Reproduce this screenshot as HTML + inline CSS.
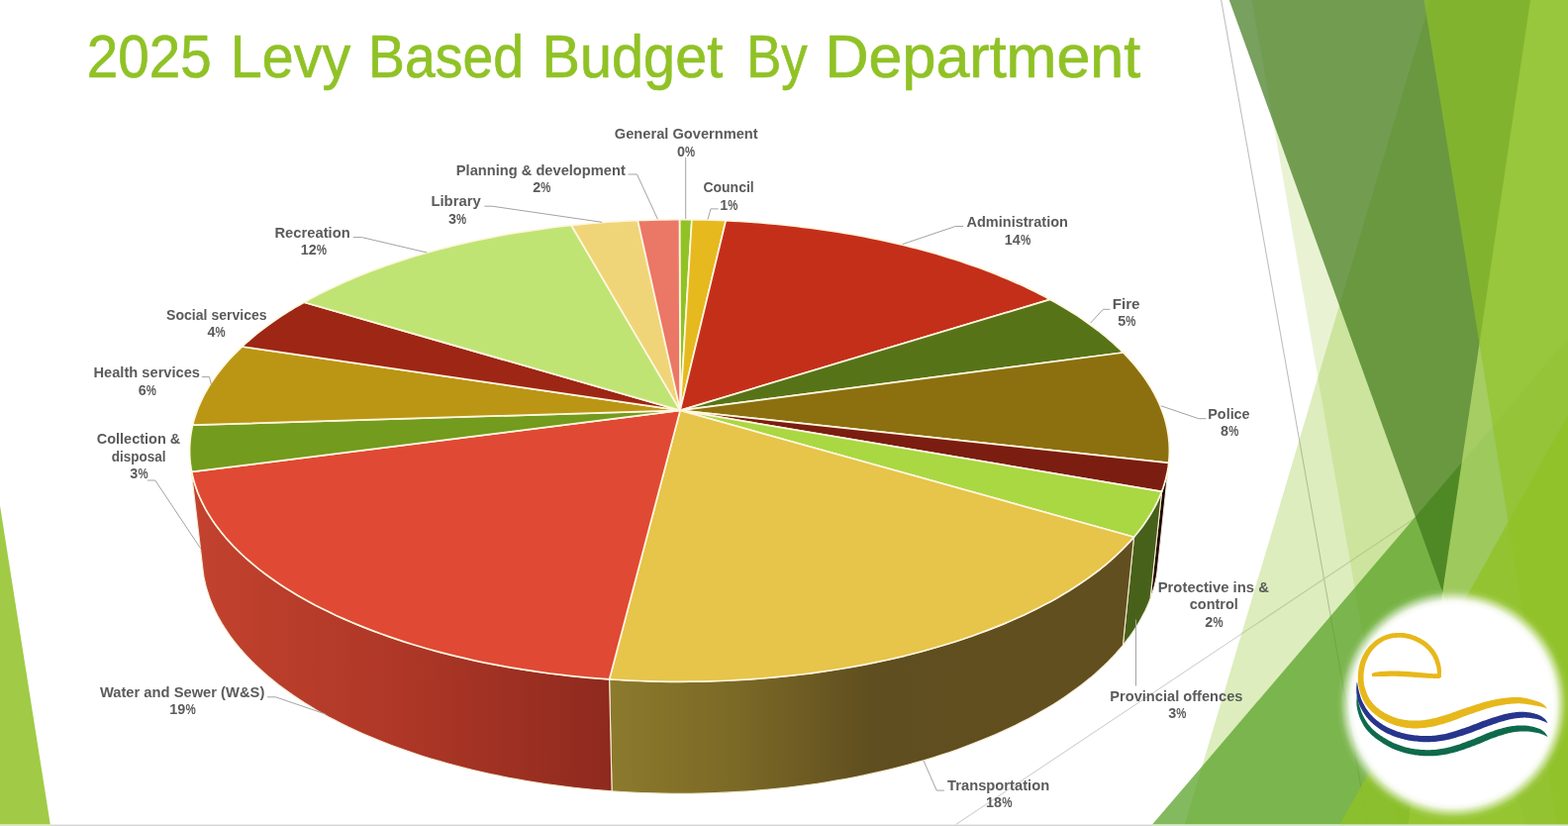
<!DOCTYPE html>
<html lang="en"><head><meta charset="utf-8"><title>2025 Levy Based Budget By Department</title>
<style>html,body{margin:0;padding:0;background:#fff}body{width:1584px;height:834px;overflow:hidden;position:relative;font-family:"Liberation Sans",sans-serif}svg{position:absolute;left:0;top:0;display:block}text{font-family:"Liberation Sans",sans-serif;white-space:pre}.lb{font-weight:bold;font-size:15.5px;fill:#5B5B5B}.ld{fill:none;stroke:#A3A3A3;stroke-width:1}</style>
</head><body>
<svg width="1584" height="834" viewBox="0 0 1584 834">
<defs>
<radialGradient id="soft" gradientUnits="userSpaceOnUse" cx="1468" cy="711" r="118"><stop offset="0" stop-color="#fff"/><stop offset="0.85" stop-color="#fff"/><stop offset="0.885" stop-color="#fff" stop-opacity="0.9"/><stop offset="0.925" stop-color="#fff" stop-opacity="0.5"/><stop offset="0.965" stop-color="#fff" stop-opacity="0.1"/><stop offset="1" stop-color="#fff" stop-opacity="0"/></radialGradient>
<linearGradient id="gW" gradientUnits="userSpaceOnUse" x1="195" y1="0" x2="617" y2="0"><stop offset="0" stop-color="#C2422E"/><stop offset="0.5" stop-color="#AE3727"/><stop offset="1" stop-color="#8E2A1E"/></linearGradient>
<linearGradient id="gT" gradientUnits="userSpaceOnUse" x1="617" y1="0" x2="1146" y2="0"><stop offset="0" stop-color="#8C7A2D"/><stop offset="0.25" stop-color="#7A6826"/><stop offset="0.5" stop-color="#5F4E1F"/><stop offset="1" stop-color="#624F20"/></linearGradient>
</defs>
<rect width="1584" height="834" fill="#fff"/>
<g id="facet">
<line x1="1233.6" y1="0" x2="1381.9" y2="834" stroke="#BFBFBF" stroke-width="1.1"/>
<line x1="965.6" y1="832.5" x2="1592.7" y2="414.3" stroke="#D2D2D2" stroke-width="1.1"/>
<polygon points="1444.9,0 1600,0 1600,832.6 1196.8,832.6" fill="#90C226" fill-opacity="0.3"/>
<polygon points="1264.6,0 1600,0 1600,832.6 1410.4,832.6" fill="#90C226" fill-opacity="0.2"/>
<polygon points="1164,832.6 1593.1,330.9 1600,330.9 1600,832.6" fill="#54A021" fill-opacity="0.72"/>
<polygon points="1241.8,0 1600,0 1600,832.6 1541.8,832.6" fill="#3F7819" fill-opacity="0.7"/>
<polygon points="1546,0 1600,0 1600,832.6 1422.4,832.6" fill="#C0E474" fill-opacity="0.7"/>
<polygon points="1438.5,0 1600,0 1600,832.6 1573,832.6" fill="#90C226" fill-opacity="0.65"/>
<polygon points="1353.5,832.6 1593.1,402.3 1600,402.3 1600,832.6" fill="#90C226" fill-opacity="0.8"/>
<polygon points="0,510.4 50.8,832.6 0,832.6" fill="#90C226" fill-opacity="0.85"/>
</g>
<rect x="0" y="832.6" width="1584" height="1.4" fill="#D4D4D4"/>
<rect x="0" y="832.6" width="51" height="1.4" fill="#D9EBB0"/>
<rect x="1164" y="832.6" width="420" height="1.4" fill="#D5EBC0"/>
<g id="logo">
<circle cx="1468" cy="711" r="118" fill="url(#soft)"/>
<path fill="#E7B81C" d="M1386.1 683.1 L1386.7 683.1 L1387.2 683.1 L1387.7 683.1 L1388.2 683.1 L1388.6 683.1 L1389.1 683.1 L1389.6 683.1 L1390.1 683.1 L1390.6 683.1 L1391.3 683.1 L1392.1 683.1 L1392.9 683.1 L1393.9 683.1 L1395.0 683.1 L1396.2 683.0 L1397.5 683.0 L1398.9 682.9 L1400.3 682.9 L1401.7 682.9 L1403.1 682.8 L1404.6 682.8 L1406.1 682.8 L1407.5 682.8 L1408.9 682.8 L1410.3 682.8 L1411.8 682.9 L1413.3 682.9 L1414.8 683.0 L1416.3 683.1 L1417.8 683.2 L1419.3 683.2 L1420.8 683.3 L1422.3 683.4 L1423.8 683.5 L1425.3 683.6 L1426.8 683.7 L1428.2 683.8 L1429.6 683.9 L1431.0 684.0 L1432.4 684.1 L1433.8 684.2 L1435.2 684.3 L1436.6 684.3 L1437.9 684.4 L1439.2 684.5 L1440.5 684.6 L1441.8 684.7 L1443.0 684.7 L1444.1 684.8 L1445.2 684.8 L1446.3 684.8 L1447.3 684.8 L1448.2 684.9 L1449.2 684.9 L1450.1 684.9 L1451.0 684.9 L1451.9 684.9 L1452.8 684.9 L1453.8 684.9 L1454.7 684.9 L1454.9 680.5 L1453.9 680.4 L1452.9 680.4 L1452.0 680.4 L1451.1 680.3 L1450.2 680.3 L1449.3 680.3 L1448.4 680.2 L1447.4 680.2 L1446.4 680.1 L1445.4 680.1 L1444.4 680.0 L1443.2 679.9 L1442.1 679.8 L1440.9 679.7 L1439.6 679.6 L1438.3 679.5 L1437.0 679.3 L1435.6 679.2 L1434.2 679.1 L1432.8 678.9 L1431.4 678.8 L1430.0 678.7 L1428.5 678.5 L1427.1 678.4 L1425.7 678.3 L1424.2 678.2 L1422.7 678.1 L1421.2 678.0 L1419.6 677.9 L1418.1 677.8 L1416.5 677.8 L1415.0 677.7 L1413.5 677.6 L1411.9 677.6 L1410.4 677.5 L1409.0 677.5 L1407.5 677.5 L1406.0 677.5 L1404.5 677.6 L1403.0 677.6 L1401.5 677.7 L1400.1 677.7 L1398.6 677.8 L1397.3 677.9 L1396.0 678.0 L1394.8 678.1 L1393.6 678.2 L1392.6 678.3 L1391.7 678.4 L1390.9 678.5 L1390.2 678.7 L1389.5 678.8 L1388.9 679.0 L1388.4 679.1 L1388.0 679.3 L1387.5 679.5 L1387.1 679.6 L1386.7 679.8 L1386.2 679.9 L1385.7 680.1Z"/>
<path fill="#E7B81C" d="M1455.9 683.9 L1455.9 683.0 L1455.9 682.1 L1455.9 681.3 L1455.9 680.4 L1455.9 679.5 L1456.0 678.6 L1456.0 677.7 L1455.9 676.7 L1455.9 675.8 L1455.8 674.8 L1455.7 673.7 L1455.5 672.7 L1455.3 671.7 L1455.1 670.6 L1454.8 669.5 L1454.5 668.5 L1454.2 667.4 L1453.8 666.2 L1453.4 665.1 L1453.0 664.0 L1452.6 662.9 L1452.1 661.8 L1451.5 660.7 L1450.9 659.7 L1450.3 658.7 L1449.7 657.7 L1449.0 656.7 L1448.3 655.8 L1447.5 654.8 L1446.7 653.9 L1445.9 653.0 L1445.1 652.1 L1444.2 651.2 L1443.3 650.4 L1442.3 649.6 L1441.4 648.8 L1440.4 648.0 L1439.3 647.3 L1438.3 646.6 L1437.2 645.9 L1436.0 645.2 L1434.9 644.6 L1433.7 643.9 L1432.5 643.4 L1431.3 642.8 L1430.1 642.3 L1428.9 641.8 L1427.7 641.4 L1426.5 641.0 L1425.3 640.6 L1424.0 640.3 L1422.8 640.0 L1421.5 639.7 L1420.2 639.5 L1418.9 639.3 L1417.6 639.1 L1416.4 639.0 L1415.1 638.9 L1413.8 638.9 L1412.5 638.9 L1411.2 639.0 L1409.9 639.1 L1408.6 639.2 L1407.3 639.3 L1406.0 639.5 L1404.7 639.8 L1403.4 640.1 L1402.2 640.4 L1400.9 640.8 L1399.6 641.2 L1398.4 641.7 L1397.2 642.2 L1396.0 642.8 L1394.8 643.4 L1393.6 644.0 L1392.4 644.8 L1391.3 645.5 L1390.2 646.3 L1389.1 647.1 L1388.0 648.0 L1387.0 648.9 L1386.0 649.8 L1385.0 650.7 L1384.1 651.7 L1383.2 652.6 L1382.3 653.6 L1381.5 654.7 L1380.7 655.7 L1379.9 656.8 L1379.2 657.9 L1378.5 659.1 L1377.8 660.2 L1377.2 661.4 L1376.6 662.5 L1376.0 663.7 L1375.5 664.9 L1375.0 666.1 L1374.5 667.4 L1374.1 668.6 L1373.8 669.9 L1373.4 671.2 L1373.1 672.4 L1372.8 673.7 L1372.6 675.0 L1372.4 676.3 L1372.2 677.6 L1372.1 678.9 L1371.9 680.1 L1371.9 681.4 L1371.8 682.6 L1371.8 683.9 L1371.8 685.2 L1371.8 686.5 L1371.8 687.7 L1371.9 689.0 L1372.1 690.3 L1372.2 691.6 L1372.5 692.9 L1372.7 694.2 L1373.0 695.4 L1373.3 696.7 L1373.7 698.0 L1374.1 699.3 L1374.5 700.7 L1375.0 702.0 L1375.5 703.3 L1376.0 704.6 L1376.6 705.9 L1377.2 707.2 L1377.9 708.5 L1378.6 709.7 L1379.3 710.9 L1380.1 712.0 L1380.9 713.1 L1381.8 714.2 L1382.7 715.3 L1383.6 716.3 L1384.6 717.3 L1385.5 718.2 L1386.5 719.2 L1387.6 720.1 L1388.6 720.9 L1389.7 721.8 L1390.8 722.6 L1391.9 723.5 L1393.0 724.3 L1394.2 725.1 L1395.4 725.8 L1396.7 726.6 L1398.0 727.3 L1399.2 728.0 L1400.5 728.7 L1401.9 729.3 L1403.2 729.9 L1404.5 730.5 L1405.9 731.0 L1407.2 731.5 L1408.6 732.0 L1410.0 732.4 L1411.4 732.9 L1412.8 733.2 L1414.2 733.6 L1415.6 733.9 L1417.1 734.2 L1418.5 734.5 L1420.0 734.7 L1421.5 734.9 L1423.0 735.0 L1424.5 735.2 L1426.0 735.3 L1427.5 735.4 L1429.1 735.4 L1430.6 735.4 L1432.2 735.4 L1433.8 735.3 L1435.4 735.3 L1437.0 735.1 L1438.6 735.0 L1440.2 734.8 L1441.9 734.6 L1443.5 734.3 L1445.2 734.0 L1446.9 733.7 L1448.6 733.4 L1450.3 733.0 L1452.0 732.6 L1453.7 732.1 L1455.4 731.6 L1457.1 731.2 L1458.8 730.7 L1460.5 730.1 L1462.3 729.6 L1464.0 729.0 L1465.8 728.4 L1467.7 727.8 L1469.5 727.1 L1471.3 726.4 L1473.1 725.7 L1474.9 725.0 L1476.7 724.3 L1478.5 723.6 L1480.3 722.9 L1482.1 722.3 L1483.9 721.6 L1485.7 721.0 L1487.5 720.4 L1489.3 719.7 L1491.1 719.1 L1493.0 718.5 L1494.8 717.9 L1496.6 717.3 L1498.4 716.7 L1500.1 716.1 L1501.8 715.6 L1503.5 715.1 L1505.1 714.7 L1506.7 714.2 L1508.3 713.8 L1509.8 713.5 L1511.3 713.1 L1512.8 712.8 L1514.3 712.5 L1515.7 712.2 L1517.2 712.0 L1518.6 711.7 L1519.9 711.5 L1521.3 711.3 L1522.6 711.1 L1523.9 710.9 L1525.2 710.8 L1526.4 710.7 L1527.5 710.6 L1528.7 710.5 L1529.8 710.4 L1530.9 710.4 L1532.0 710.3 L1533.0 710.3 L1534.1 710.3 L1535.2 710.3 L1536.4 710.4 L1537.5 710.4 L1538.7 710.5 L1539.9 710.7 L1541.2 710.8 L1542.4 711.0 L1543.7 711.2 L1544.9 711.4 L1546.1 711.6 L1547.3 711.8 L1548.4 712.0 L1549.5 712.2 L1550.4 712.4 L1551.3 712.5 L1552.1 712.6 L1552.8 712.7 L1553.4 712.9 L1554.0 713.0 L1554.6 713.1 L1555.1 713.2 L1555.6 713.3 L1556.1 713.4 L1556.6 713.5 L1557.0 713.6 L1557.5 713.7 L1558.0 713.9 L1558.4 714.0 L1558.9 714.1 L1559.3 714.2 L1559.7 714.3 L1560.1 714.5 L1560.5 714.6 L1560.9 714.8 L1561.3 714.9 L1561.7 715.1 L1562.1 715.3 L1562.5 715.4 L1562.8 715.0 L1562.5 714.7 L1562.2 714.4 L1561.9 714.0 L1561.7 713.7 L1561.4 713.4 L1561.1 713.0 L1560.8 712.7 L1560.5 712.3 L1560.1 712.0 L1559.7 711.6 L1559.3 711.3 L1558.8 710.9 L1558.3 710.6 L1557.9 710.4 L1557.4 710.1 L1556.9 709.8 L1556.4 709.5 L1555.8 709.3 L1555.3 709.0 L1554.6 708.7 L1553.9 708.5 L1553.2 708.2 L1552.4 707.9 L1551.5 707.7 L1550.6 707.4 L1549.6 707.1 L1548.5 706.7 L1547.3 706.4 L1546.1 706.1 L1544.8 705.8 L1543.5 705.4 L1542.2 705.1 L1540.8 704.9 L1539.5 704.6 L1538.1 704.4 L1536.8 704.2 L1535.6 704.1 L1534.4 704.0 L1533.1 704.0 L1531.9 704.0 L1530.7 704.0 L1529.5 704.0 L1528.3 704.0 L1527.0 704.1 L1525.8 704.2 L1524.5 704.3 L1523.2 704.4 L1521.8 704.6 L1520.4 704.7 L1519.0 704.9 L1517.6 705.1 L1516.1 705.3 L1514.6 705.6 L1513.1 705.8 L1511.5 706.1 L1509.9 706.4 L1508.3 706.7 L1506.7 707.1 L1505.0 707.5 L1503.4 707.9 L1501.6 708.3 L1499.9 708.8 L1498.1 709.3 L1496.3 709.8 L1494.4 710.4 L1492.6 711.0 L1490.7 711.6 L1488.8 712.2 L1487.0 712.8 L1485.1 713.4 L1483.3 714.0 L1481.5 714.6 L1479.6 715.2 L1477.8 715.8 L1475.9 716.5 L1474.1 717.1 L1472.2 717.8 L1470.4 718.5 L1468.6 719.1 L1466.8 719.8 L1465.0 720.4 L1463.3 721.0 L1461.6 721.5 L1459.9 722.1 L1458.2 722.6 L1456.5 723.1 L1454.9 723.5 L1453.2 724.0 L1451.6 724.4 L1450.0 724.9 L1448.4 725.3 L1446.8 725.6 L1445.3 726.0 L1443.8 726.3 L1442.2 726.5 L1440.7 726.8 L1439.3 727.0 L1437.8 727.2 L1436.3 727.3 L1434.9 727.4 L1433.4 727.5 L1432.0 727.6 L1430.6 727.6 L1429.2 727.6 L1427.8 727.6 L1426.4 727.6 L1425.0 727.5 L1423.7 727.4 L1422.3 727.3 L1421.0 727.1 L1419.7 727.0 L1418.4 726.8 L1417.1 726.5 L1415.8 726.3 L1414.6 726.0 L1413.3 725.7 L1412.1 725.4 L1410.8 725.0 L1409.6 724.6 L1408.4 724.2 L1407.2 723.8 L1406.0 723.3 L1404.8 722.8 L1403.6 722.3 L1402.5 721.7 L1401.3 721.1 L1400.1 720.5 L1399.0 719.9 L1397.9 719.2 L1396.8 718.5 L1395.8 717.9 L1394.8 717.2 L1393.8 716.4 L1392.8 715.7 L1391.9 714.9 L1390.9 714.2 L1390.0 713.4 L1389.2 712.6 L1388.3 711.7 L1387.5 710.9 L1386.7 710.0 L1386.0 709.2 L1385.3 708.3 L1384.6 707.3 L1384.0 706.4 L1383.4 705.4 L1382.8 704.3 L1382.2 703.2 L1381.7 702.1 L1381.1 701.0 L1380.7 699.8 L1380.2 698.6 L1379.8 697.5 L1379.4 696.3 L1379.1 695.1 L1378.7 694.0 L1378.5 692.9 L1378.2 691.8 L1378.0 690.7 L1377.9 689.6 L1377.7 688.5 L1377.6 687.3 L1377.6 686.2 L1377.5 685.1 L1377.5 684.0 L1377.5 682.8 L1377.6 681.7 L1377.6 680.6 L1377.7 679.4 L1377.8 678.3 L1378.0 677.1 L1378.2 675.9 L1378.4 674.8 L1378.6 673.6 L1378.8 672.5 L1379.1 671.4 L1379.4 670.2 L1379.8 669.1 L1380.2 668.1 L1380.6 667.0 L1381.0 665.9 L1381.5 664.9 L1382.0 663.8 L1382.5 662.8 L1383.1 661.7 L1383.7 660.7 L1384.3 659.7 L1384.9 658.7 L1385.6 657.8 L1386.3 656.8 L1387.0 656.0 L1387.8 655.1 L1388.6 654.2 L1389.4 653.4 L1390.3 652.6 L1391.2 651.8 L1392.1 651.0 L1393.1 650.3 L1394.1 649.5 L1395.1 648.9 L1396.1 648.2 L1397.1 647.6 L1398.1 647.1 L1399.2 646.6 L1400.2 646.1 L1401.2 645.7 L1402.3 645.4 L1403.4 645.0 L1404.6 644.8 L1405.7 644.5 L1406.8 644.3 L1408.0 644.1 L1409.2 644.0 L1410.3 643.9 L1411.5 643.8 L1412.6 643.7 L1413.7 643.7 L1414.9 643.8 L1416.0 643.8 L1417.1 643.9 L1418.3 644.1 L1419.4 644.2 L1420.6 644.5 L1421.7 644.7 L1422.8 645.0 L1424.0 645.3 L1425.1 645.6 L1426.1 645.9 L1427.2 646.3 L1428.3 646.8 L1429.4 647.2 L1430.5 647.7 L1431.5 648.2 L1432.6 648.8 L1433.6 649.4 L1434.6 650.0 L1435.6 650.6 L1436.6 651.2 L1437.5 651.9 L1438.4 652.6 L1439.2 653.3 L1440.0 654.0 L1440.8 654.7 L1441.6 655.5 L1442.3 656.3 L1443.1 657.1 L1443.8 657.9 L1444.4 658.7 L1445.1 659.6 L1445.7 660.4 L1446.2 661.3 L1446.8 662.2 L1447.3 663.0 L1447.8 663.9 L1448.2 664.9 L1448.7 665.8 L1449.1 666.8 L1449.5 667.8 L1449.8 668.8 L1450.1 669.8 L1450.4 670.7 L1450.7 671.7 L1451.0 672.7 L1451.2 673.6 L1451.4 674.5 L1451.5 675.3 L1451.6 676.1 L1451.7 677.0 L1451.8 677.8 L1451.8 678.6 L1451.8 679.5 L1451.8 680.4 L1451.8 681.3 L1451.8 682.2 L1451.9 683.1 L1451.9 684.0Z"/>
<path fill="#27358C" d="M1370.6 689.0 L1370.6 689.8 L1370.5 690.5 L1370.5 691.3 L1370.4 692.1 L1370.3 692.8 L1370.3 693.6 L1370.2 694.4 L1370.2 695.2 L1370.2 696.0 L1370.2 696.8 L1370.2 697.7 L1370.3 698.5 L1370.3 699.4 L1370.4 700.3 L1370.5 701.2 L1370.7 702.1 L1370.8 703.0 L1371.0 704.0 L1371.2 704.9 L1371.4 705.9 L1371.6 706.9 L1371.9 707.9 L1372.3 708.9 L1372.6 709.9 L1373.0 710.9 L1373.4 711.9 L1373.9 712.9 L1374.3 714.0 L1374.8 715.0 L1375.4 716.1 L1375.9 717.1 L1376.5 718.2 L1377.2 719.2 L1377.8 720.3 L1378.5 721.3 L1379.2 722.3 L1379.9 723.2 L1380.6 724.2 L1381.4 725.1 L1382.2 726.0 L1383.0 726.9 L1383.9 727.8 L1384.7 728.7 L1385.6 729.5 L1386.5 730.3 L1387.4 731.2 L1388.4 732.0 L1389.3 732.8 L1390.3 733.5 L1391.3 734.3 L1392.3 735.0 L1393.3 735.7 L1394.4 736.5 L1395.4 737.2 L1396.5 737.8 L1397.6 738.5 L1398.8 739.2 L1399.9 739.8 L1401.1 740.4 L1402.4 741.0 L1403.6 741.6 L1404.9 742.1 L1406.2 742.7 L1407.5 743.2 L1408.9 743.7 L1410.3 744.2 L1411.7 744.7 L1413.1 745.1 L1414.6 745.6 L1416.1 746.0 L1417.6 746.3 L1419.1 746.7 L1420.7 747.0 L1422.3 747.4 L1423.9 747.7 L1425.6 747.9 L1427.3 748.2 L1429.0 748.4 L1430.8 748.6 L1432.5 748.8 L1434.3 749.0 L1436.0 749.1 L1437.7 749.2 L1439.5 749.2 L1441.2 749.2 L1442.8 749.2 L1444.5 749.2 L1446.2 749.1 L1447.9 749.0 L1449.6 748.9 L1451.3 748.7 L1453.0 748.6 L1454.7 748.3 L1456.4 748.1 L1458.1 747.8 L1459.9 747.5 L1461.7 747.1 L1463.5 746.7 L1465.4 746.2 L1467.2 745.8 L1469.1 745.2 L1470.9 744.7 L1472.8 744.1 L1474.6 743.6 L1476.4 743.0 L1478.3 742.4 L1480.1 741.8 L1481.9 741.2 L1483.8 740.5 L1485.6 739.9 L1487.5 739.2 L1489.3 738.5 L1491.1 737.8 L1493.0 737.1 L1494.8 736.4 L1496.6 735.7 L1498.3 735.0 L1500.1 734.3 L1501.8 733.7 L1503.5 733.1 L1505.2 732.5 L1506.9 731.9 L1508.6 731.3 L1510.3 730.7 L1512.0 730.2 L1513.6 729.6 L1515.3 729.1 L1516.9 728.6 L1518.4 728.2 L1520.0 727.7 L1521.5 727.3 L1522.9 726.9 L1524.4 726.6 L1525.8 726.3 L1527.2 726.0 L1528.5 725.8 L1529.8 725.5 L1531.1 725.3 L1532.4 725.2 L1533.6 725.0 L1534.9 724.9 L1536.1 724.8 L1537.3 724.7 L1538.4 724.7 L1539.6 724.6 L1540.7 724.6 L1541.9 724.7 L1543.0 724.8 L1544.2 724.8 L1545.3 725.0 L1546.4 725.1 L1547.5 725.2 L1548.5 725.4 L1549.5 725.5 L1550.4 725.7 L1551.3 725.8 L1552.1 726.0 L1552.8 726.1 L1553.5 726.3 L1554.1 726.4 L1554.7 726.6 L1555.2 726.8 L1555.7 726.9 L1556.3 727.1 L1556.8 727.3 L1557.3 727.5 L1557.8 727.7 L1558.3 727.9 L1558.8 728.0 L1559.2 728.2 L1559.6 728.3 L1560.0 728.5 L1560.4 728.7 L1560.7 728.8 L1561.1 729.0 L1561.5 729.2 L1561.9 729.4 L1562.3 729.6 L1562.7 729.8 L1563.1 730.0 L1563.3 729.6 L1563.1 729.3 L1562.8 728.9 L1562.6 728.6 L1562.4 728.2 L1562.2 727.8 L1561.9 727.5 L1561.7 727.1 L1561.4 726.7 L1561.0 726.3 L1560.7 726.0 L1560.3 725.6 L1559.8 725.2 L1559.4 724.9 L1559.0 724.5 L1558.5 724.2 L1558.0 723.8 L1557.5 723.5 L1556.9 723.1 L1556.3 722.7 L1555.6 722.4 L1554.9 722.1 L1554.2 721.7 L1553.3 721.4 L1552.4 721.1 L1551.5 720.9 L1550.6 720.6 L1549.5 720.3 L1548.4 720.1 L1547.3 719.8 L1546.1 719.6 L1544.9 719.3 L1543.6 719.2 L1542.3 719.0 L1541.0 718.9 L1539.7 718.8 L1538.4 718.7 L1537.1 718.7 L1535.7 718.8 L1534.4 718.8 L1533.0 718.9 L1531.7 719.1 L1530.3 719.2 L1528.9 719.4 L1527.5 719.6 L1526.0 719.9 L1524.5 720.1 L1523.0 720.4 L1521.5 720.8 L1519.9 721.1 L1518.3 721.5 L1516.7 722.0 L1515.0 722.4 L1513.4 722.9 L1511.7 723.4 L1510.0 724.0 L1508.3 724.5 L1506.5 725.1 L1504.8 725.7 L1503.1 726.3 L1501.4 726.9 L1499.6 727.5 L1497.8 728.1 L1496.0 728.8 L1494.2 729.5 L1492.4 730.2 L1490.6 730.9 L1488.7 731.6 L1486.9 732.3 L1485.1 733.0 L1483.4 733.7 L1481.6 734.3 L1479.8 734.9 L1478.0 735.5 L1476.2 736.1 L1474.4 736.8 L1472.6 737.3 L1470.8 737.9 L1469.0 738.5 L1467.2 739.0 L1465.5 739.5 L1463.7 740.0 L1462.0 740.5 L1460.3 740.9 L1458.7 741.2 L1457.0 741.5 L1455.4 741.8 L1453.8 742.1 L1452.2 742.3 L1450.6 742.5 L1449.0 742.7 L1447.4 742.8 L1445.9 742.9 L1444.3 743.0 L1442.7 743.0 L1441.1 743.1 L1439.6 743.1 L1438.0 743.0 L1436.3 743.0 L1434.7 742.9 L1433.1 742.8 L1431.4 742.6 L1429.8 742.4 L1428.1 742.2 L1426.5 742.0 L1424.9 741.8 L1423.4 741.5 L1421.8 741.2 L1420.4 740.9 L1418.9 740.6 L1417.5 740.3 L1416.1 739.9 L1414.8 739.5 L1413.4 739.1 L1412.1 738.7 L1410.8 738.2 L1409.6 737.8 L1408.3 737.3 L1407.1 736.8 L1405.9 736.3 L1404.7 735.8 L1403.6 735.3 L1402.5 734.8 L1401.4 734.2 L1400.4 733.7 L1399.3 733.1 L1398.3 732.5 L1397.3 731.9 L1396.4 731.3 L1395.4 730.6 L1394.4 730.0 L1393.5 729.3 L1392.6 728.6 L1391.7 727.9 L1390.8 727.2 L1389.9 726.5 L1389.1 725.7 L1388.3 725.0 L1387.4 724.2 L1386.7 723.4 L1385.9 722.6 L1385.1 721.8 L1384.4 721.0 L1383.7 720.2 L1383.0 719.3 L1382.3 718.5 L1381.7 717.6 L1381.1 716.7 L1380.4 715.8 L1379.8 714.9 L1379.3 713.9 L1378.7 713.0 L1378.2 712.0 L1377.6 711.1 L1377.2 710.2 L1376.7 709.2 L1376.2 708.3 L1375.8 707.5 L1375.5 706.6 L1375.1 705.8 L1374.8 704.9 L1374.5 704.0 L1374.3 703.2 L1374.0 702.3 L1373.8 701.5 L1373.5 700.6 L1373.3 699.8 L1373.1 698.9 L1372.8 698.1 L1372.6 697.3 L1372.5 696.5 L1372.3 695.8 L1372.1 695.0 L1372.0 694.3 L1371.9 693.5 L1371.7 692.8 L1371.6 692.0 L1371.5 691.3 L1371.3 690.5 L1371.2 689.7 L1371.1 689.0Z"/>
<path fill="#0F6A4C" d="M1370.6 702.5 L1370.6 703.3 L1370.6 704.2 L1370.5 705.0 L1370.5 705.9 L1370.4 706.7 L1370.4 707.5 L1370.4 708.4 L1370.4 709.3 L1370.4 710.2 L1370.4 711.1 L1370.5 712.0 L1370.6 713.0 L1370.8 713.9 L1370.9 714.9 L1371.1 715.9 L1371.3 716.9 L1371.6 717.9 L1371.8 719.0 L1372.1 720.0 L1372.4 721.1 L1372.7 722.1 L1373.1 723.2 L1373.5 724.2 L1373.9 725.2 L1374.3 726.3 L1374.8 727.3 L1375.3 728.3 L1375.8 729.3 L1376.4 730.3 L1377.0 731.4 L1377.6 732.4 L1378.2 733.4 L1378.9 734.4 L1379.6 735.4 L1380.3 736.4 L1381.1 737.3 L1381.8 738.2 L1382.6 739.1 L1383.5 740.0 L1384.3 740.8 L1385.2 741.7 L1386.1 742.5 L1387.0 743.3 L1388.0 744.1 L1389.0 744.9 L1390.0 745.7 L1391.1 746.4 L1392.2 747.2 L1393.3 748.0 L1394.5 748.8 L1395.7 749.6 L1396.9 750.4 L1398.2 751.2 L1399.5 752.0 L1400.8 752.8 L1402.2 753.6 L1403.6 754.3 L1405.0 755.0 L1406.4 755.7 L1407.8 756.3 L1409.3 756.9 L1410.8 757.5 L1412.3 758.1 L1413.8 758.6 L1415.3 759.1 L1416.8 759.6 L1418.4 760.0 L1420.0 760.4 L1421.6 760.8 L1423.2 761.2 L1424.8 761.5 L1426.4 761.8 L1428.1 762.1 L1429.7 762.4 L1431.4 762.6 L1433.1 762.8 L1434.8 762.9 L1436.5 763.1 L1438.2 763.2 L1440.0 763.2 L1441.7 763.3 L1443.4 763.3 L1445.1 763.3 L1446.8 763.2 L1448.5 763.2 L1450.2 763.0 L1451.9 762.9 L1453.6 762.7 L1455.3 762.5 L1457.0 762.3 L1458.7 762.0 L1460.3 761.7 L1462.0 761.4 L1463.8 761.0 L1465.5 760.6 L1467.3 760.2 L1469.1 759.7 L1470.9 759.2 L1472.7 758.7 L1474.6 758.1 L1476.5 757.5 L1478.3 756.9 L1480.2 756.3 L1482.0 755.6 L1483.9 755.0 L1485.7 754.3 L1487.5 753.6 L1489.2 753.0 L1491.0 752.3 L1492.7 751.6 L1494.4 750.9 L1496.1 750.2 L1497.8 749.5 L1499.5 748.8 L1501.1 748.1 L1502.7 747.4 L1504.3 746.7 L1505.9 746.1 L1507.4 745.5 L1508.9 744.9 L1510.5 744.4 L1512.0 743.9 L1513.5 743.3 L1515.1 742.8 L1516.6 742.4 L1518.0 741.9 L1519.5 741.5 L1520.9 741.1 L1522.3 740.7 L1523.7 740.3 L1525.1 740.0 L1526.4 739.7 L1527.7 739.5 L1529.0 739.3 L1530.3 739.1 L1531.6 738.9 L1532.8 738.8 L1534.0 738.7 L1535.3 738.6 L1536.4 738.6 L1537.6 738.5 L1538.8 738.5 L1539.9 738.5 L1541.0 738.5 L1542.0 738.5 L1543.0 738.6 L1544.0 738.6 L1545.0 738.7 L1546.0 738.8 L1547.0 739.0 L1547.9 739.1 L1548.8 739.3 L1549.7 739.4 L1550.6 739.6 L1551.4 739.7 L1552.2 739.8 L1552.8 740.0 L1553.5 740.1 L1554.0 740.2 L1554.6 740.3 L1555.1 740.5 L1555.6 740.6 L1556.0 740.8 L1556.5 740.9 L1556.9 741.0 L1557.4 741.2 L1557.8 741.4 L1558.3 741.5 L1558.7 741.7 L1559.1 741.8 L1559.5 742.0 L1559.9 742.2 L1560.3 742.4 L1560.7 742.5 L1561.1 742.7 L1561.5 743.0 L1561.8 743.2 L1562.2 743.4 L1562.7 743.6 L1563.1 743.8 L1563.4 743.5 L1563.1 743.1 L1562.8 742.7 L1562.6 742.3 L1562.4 742.0 L1562.1 741.6 L1561.9 741.2 L1561.6 740.8 L1561.3 740.4 L1561.0 740.0 L1560.7 739.6 L1560.3 739.3 L1559.9 738.9 L1559.5 738.6 L1559.1 738.2 L1558.6 737.9 L1558.2 737.6 L1557.7 737.3 L1557.2 736.9 L1556.7 736.6 L1556.1 736.3 L1555.5 736.0 L1554.9 735.7 L1554.2 735.5 L1553.4 735.2 L1552.6 734.9 L1551.8 734.7 L1550.9 734.4 L1550.0 734.1 L1549.0 733.9 L1548.0 733.6 L1547.0 733.4 L1545.9 733.2 L1544.7 733.0 L1543.6 732.8 L1542.4 732.7 L1541.2 732.6 L1540.0 732.5 L1538.8 732.5 L1537.6 732.5 L1536.3 732.5 L1535.0 732.5 L1533.7 732.5 L1532.3 732.6 L1530.9 732.7 L1529.5 732.9 L1528.1 733.0 L1526.7 733.2 L1525.2 733.5 L1523.8 733.8 L1522.3 734.1 L1520.8 734.4 L1519.3 734.8 L1517.7 735.2 L1516.2 735.7 L1514.6 736.1 L1513.1 736.6 L1511.5 737.1 L1509.9 737.6 L1508.3 738.2 L1506.7 738.7 L1505.1 739.3 L1503.4 740.0 L1501.8 740.6 L1500.2 741.3 L1498.5 742.0 L1496.9 742.7 L1495.2 743.4 L1493.6 744.1 L1491.9 744.8 L1490.2 745.5 L1488.6 746.2 L1486.9 746.8 L1485.2 747.5 L1483.4 748.1 L1481.6 748.8 L1479.8 749.5 L1478.0 750.1 L1476.2 750.8 L1474.4 751.4 L1472.6 752.0 L1470.8 752.6 L1469.1 753.1 L1467.4 753.6 L1465.7 754.0 L1464.0 754.4 L1462.4 754.8 L1460.8 755.2 L1459.2 755.5 L1457.6 755.8 L1456.0 756.1 L1454.4 756.3 L1452.9 756.5 L1451.3 756.7 L1449.7 756.9 L1448.1 757.0 L1446.6 757.1 L1445.0 757.2 L1443.4 757.2 L1441.8 757.2 L1440.1 757.2 L1438.5 757.1 L1436.9 757.0 L1435.3 756.9 L1433.7 756.8 L1432.1 756.6 L1430.5 756.4 L1429.0 756.2 L1427.4 756.0 L1425.9 755.7 L1424.4 755.4 L1422.9 755.1 L1421.4 754.8 L1419.9 754.4 L1418.5 754.0 L1417.0 753.5 L1415.6 753.1 L1414.2 752.6 L1412.8 752.1 L1411.4 751.6 L1410.0 751.1 L1408.7 750.5 L1407.4 749.9 L1406.1 749.3 L1404.8 748.6 L1403.5 748.0 L1402.2 747.3 L1401.0 746.5 L1399.8 745.8 L1398.6 745.1 L1397.4 744.4 L1396.3 743.6 L1395.2 742.9 L1394.1 742.2 L1393.1 741.5 L1392.1 740.8 L1391.2 740.1 L1390.3 739.4 L1389.4 738.6 L1388.6 737.9 L1387.8 737.2 L1387.0 736.4 L1386.2 735.7 L1385.4 734.9 L1384.7 734.1 L1384.0 733.3 L1383.3 732.5 L1382.6 731.7 L1382.0 730.8 L1381.3 729.9 L1380.7 729.0 L1380.1 728.1 L1379.6 727.2 L1379.0 726.3 L1378.5 725.4 L1378.0 724.5 L1377.5 723.5 L1377.0 722.6 L1376.6 721.7 L1376.2 720.8 L1375.8 719.9 L1375.4 718.9 L1375.0 718.0 L1374.7 717.0 L1374.4 716.1 L1374.1 715.2 L1373.8 714.2 L1373.5 713.3 L1373.2 712.4 L1372.9 711.6 L1372.7 710.7 L1372.5 709.9 L1372.3 709.1 L1372.2 708.3 L1372.0 707.4 L1371.8 706.6 L1371.7 705.8 L1371.5 705.0 L1371.4 704.1 L1371.2 703.3 L1371.1 702.4Z"/>
</g>
<text id="title" font-size="60.2" fill="#90C226" stroke="#90C226" stroke-width="0.7" y="77.8"><tspan x="87.8" textLength="125.8" lengthAdjust="spacingAndGlyphs">2025</tspan> <tspan x="232.8" textLength="121.3" lengthAdjust="spacingAndGlyphs">Levy</tspan> <tspan x="372.1" textLength="156.9" lengthAdjust="spacingAndGlyphs">Based</tspan> <tspan x="547.6" textLength="182.6" lengthAdjust="spacingAndGlyphs">Budget</tspan> <tspan x="754.2" textLength="61.5" lengthAdjust="spacingAndGlyphs">By</tspan> <tspan x="833.5" textLength="318.7" lengthAdjust="spacingAndGlyphs">Department</tspan></text>
<g id="pie" stroke-linejoin="round">
<path d="M1180.7 467.4 L1180.2 471.5 L1179.5 475.6 L1178.6 479.8 L1177.6 483.9 L1176.4 488.1 L1175.1 492.2 L1173.6 496.4 L1162.1 604.3 L1163.6 600 L1165 595.7 L1166.2 591.4 L1167.2 587.2 L1168.1 582.9 L1168.8 578.6 L1169.3 574.4Z" fill="#1E0703" stroke="#F6EBD4" stroke-width="1.1"/>
<path d="M1173.6 496.4 L1172 500.2 L1170.3 504.1 L1168.5 508 L1166.5 511.8 L1164.4 515.6 L1162.1 519.5 L1159.7 523.3 L1157.2 527.1 L1154.5 530.9 L1151.6 534.7 L1148.6 538.5 L1145.5 542.3 L1134.4 651.5 L1137.4 647.6 L1140.4 643.7 L1143.2 639.8 L1145.9 635.9 L1148.4 632 L1150.8 628 L1153 624.1 L1155.1 620.1 L1157.1 616.2 L1158.9 612.2 L1160.6 608.2 L1162.1 604.3Z" fill="#47611A" stroke="#F6EBD4" stroke-width="1.1"/>
<path d="M1145.5 542.3 L1141.9 546.4 L1138.1 550.4 L1134.2 554.4 L1130.1 558.4 L1125.8 562.4 L1121.4 566.4 L1116.8 570.3 L1112 574.2 L1107 578 L1101.9 581.8 L1096.6 585.6 L1091.1 589.3 L1085.5 593 L1079.7 596.7 L1073.7 600.3 L1067.6 603.9 L1061.3 607.4 L1054.8 610.8 L1048.2 614.2 L1041.5 617.6 L1034.5 620.9 L1027.5 624.1 L1020.2 627.3 L1012.9 630.4 L1005.3 633.4 L997.7 636.4 L989.9 639.3 L981.9 642.2 L973.8 645 L965.6 647.7 L957.3 650.3 L948.8 652.8 L940.2 655.3 L931.5 657.7 L922.7 660 L913.8 662.3 L904.7 664.4 L895.6 666.5 L886.3 668.4 L877 670.3 L867.6 672.1 L858 673.8 L848.4 675.5 L838.8 677 L829 678.4 L819.2 679.8 L809.3 681 L799.3 682.2 L789.3 683.2 L779.3 684.2 L769.2 685 L759 685.8 L748.8 686.4 L738.6 687 L728.4 687.5 L718.1 687.8 L707.9 688.1 L697.6 688.2 L687.3 688.3 L677 688.3 L666.7 688.1 L656.5 687.9 L646.2 687.5 L636 687.1 L625.7 686.5 L615.6 685.9 L618.1 798.8 L628 799.5 L638 800 L647.9 800.5 L657.9 800.8 L667.9 801.1 L677.9 801.2 L687.9 801.3 L697.9 801.2 L707.9 801 L717.9 800.8 L727.8 800.4 L737.8 799.9 L747.7 799.4 L757.6 798.7 L767.5 797.9 L777.3 797 L787.1 796.1 L796.8 795 L806.5 793.8 L816.1 792.5 L825.6 791.2 L835.1 789.7 L844.5 788.1 L853.9 786.5 L863.1 784.7 L872.3 782.9 L881.4 780.9 L890.4 778.9 L899.3 776.8 L908.1 774.6 L916.8 772.3 L925.4 769.9 L933.9 767.5 L942.2 765 L950.5 762.3 L958.6 759.7 L966.6 756.9 L974.5 754 L982.2 751.1 L989.8 748.1 L997.3 745.1 L1004.6 742 L1011.8 738.8 L1018.9 735.5 L1025.8 732.2 L1032.5 728.8 L1039.2 725.4 L1045.6 721.9 L1051.9 718.3 L1058.1 714.7 L1064.1 711.1 L1069.9 707.4 L1075.6 703.6 L1081.1 699.8 L1086.4 696 L1091.6 692.1 L1096.6 688.2 L1101.5 684.3 L1106.2 680.3 L1110.7 676.2 L1115.1 672.2 L1119.3 668.1 L1123.3 664 L1127.1 659.9 L1130.8 655.7 L1134.4 651.5Z" fill="url(#gT)" stroke="#F6EBD4" stroke-width="1.1"/>
<path d="M615.6 685.9 L605.5 685.2 L595.5 684.3 L585.6 683.4 L575.7 682.4 L565.9 681.3 L556.1 680.1 L546.4 678.8 L536.7 677.4 L527.1 675.9 L517.6 674.3 L508.2 672.6 L498.8 670.9 L489.6 669 L480.4 667.1 L471.3 665.1 L462.4 663 L453.5 660.8 L444.8 658.6 L436.1 656.2 L427.6 653.8 L419.2 651.3 L410.9 648.8 L402.7 646.1 L394.7 643.4 L386.7 640.6 L379 637.8 L371.3 634.9 L363.8 631.9 L356.5 628.9 L349.3 625.8 L342.2 622.6 L335.3 619.4 L328.5 616.1 L321.9 612.7 L315.4 609.4 L309.1 605.9 L302.9 602.4 L296.9 598.9 L291.1 595.3 L285.4 591.7 L279.9 588 L274.6 584.3 L269.4 580.6 L264.4 576.8 L259.5 573 L254.9 569.1 L250.4 565.3 L246 561.4 L241.8 557.4 L237.8 553.5 L234 549.5 L230.3 545.5 L226.8 541.4 L223.5 537.4 L220.3 533.3 L217.3 529.3 L214.5 525.2 L211.9 521.1 L209.4 517 L207 512.8 L204.9 508.7 L202.9 504.6 L201.1 500.4 L199.4 496.3 L197.9 492.2 L196.6 488 L195.4 483.9 L194.4 479.7 L193.5 475.6 L192.8 471.5 L192.3 467.4 L204.9 574.4 L205.4 578.6 L206.1 582.9 L207 587.1 L208 591.4 L209.2 595.6 L210.6 599.9 L212 604.2 L213.7 608.4 L215.5 612.7 L217.5 617 L219.6 621.2 L221.9 625.4 L224.4 629.7 L227 633.9 L229.8 638.1 L232.7 642.3 L235.9 646.5 L239.1 650.6 L242.6 654.8 L246.2 658.9 L250 663 L253.9 667.1 L258 671.1 L262.3 675.1 L266.7 679.1 L271.3 683.1 L276 687 L280.9 690.9 L286 694.7 L291.2 698.5 L296.6 702.3 L302.2 706 L307.9 709.7 L313.7 713.3 L319.7 716.9 L325.9 720.4 L332.2 723.9 L338.7 727.3 L345.3 730.7 L352 734 L358.9 737.2 L366 740.4 L373.2 743.5 L380.5 746.6 L387.9 749.5 L395.5 752.5 L403.2 755.3 L411 758.1 L419 760.8 L427.1 763.4 L435.3 766 L443.6 768.4 L452 770.8 L460.5 773.1 L469.2 775.4 L477.9 777.5 L486.7 779.6 L495.6 781.6 L504.6 783.4 L513.7 785.2 L522.9 786.9 L532.1 788.5 L541.5 790.1 L550.9 791.5 L560.3 792.8 L569.8 794.1 L579.4 795.2 L589 796.3 L598.7 797.2 L608.4 798.1 L618.1 798.8Z" fill="url(#gW)" stroke="#F6EBD4" stroke-width="1.1"/>
<path d="M687.1 414.4 L686.5 221.7 L692.7 221.7 L698.9 221.8Z" fill="#90C226" stroke="#FFF7E0" stroke-width="1.7"/>
<path d="M687.1 414.4 L698.9 221.8 L705.8 221.9 L712.7 222 L719.5 222.2 L726.4 222.5 L733.2 222.7Z" fill="#E6B91E" stroke="#FFF7E0" stroke-width="1.7"/>
<path d="M687.1 414.4 L733.2 222.7 L740.4 223.1 L747.6 223.5 L754.7 223.9 L761.9 224.4 L769 225 L776.1 225.6 L783.2 226.2 L790.3 226.9 L797.4 227.6 L804.5 228.4 L811.5 229.3 L818.5 230.1 L825.5 231.1 L832.4 232.1 L839.4 233.1 L846.3 234.2 L853.2 235.3 L860 236.5 L866.9 237.7 L873.6 239 L880.4 240.3 L887.1 241.7 L893.8 243.2 L900.5 244.6 L907.1 246.2 L913.7 247.7 L920.2 249.3 L926.7 251 L933.1 252.7 L939.5 254.5 L945.9 256.3 L952.2 258.2 L958.4 260.1 L964.6 262 L970.8 264 L976.9 266.1 L982.9 268.2 L988.9 270.3 L994.8 272.5 L1000.7 274.7 L1006.5 277 L1012.2 279.4 L1017.9 281.7 L1023.5 284.2 L1029.1 286.6 L1034.5 289.1 L1039.9 291.7 L1045.3 294.3 L1050.5 296.9 L1055.7 299.6 L1060.8 302.4Z" fill="#C42F1A" stroke="#FFF7E0" stroke-width="1.7"/>
<path d="M687.1 414.4 L1060.8 302.4 L1065.6 305 L1070.3 307.7 L1075 310.5 L1079.5 313.2 L1084 316 L1088.5 318.9 L1092.8 321.8 L1097 324.7 L1101.2 327.7 L1105.3 330.7 L1109.3 333.7 L1113.2 336.8 L1117 339.9 L1120.7 343.1 L1124.3 346.2 L1127.9 349.5 L1131.3 352.7 L1134.6 356Z" fill="#567417" stroke="#FFF7E0" stroke-width="1.7"/>
<path d="M687.1 414.4 L1134.6 356 L1138 359.4 L1141.2 362.9 L1144.4 366.4 L1147.4 370 L1150.3 373.6 L1153.1 377.2 L1155.7 380.8 L1158.3 384.5 L1160.7 388.2 L1163 391.9 L1165.2 395.7 L1167.2 399.5 L1169.1 403.3 L1170.9 407.2 L1172.5 411 L1174 414.9 L1175.4 418.8 L1176.7 422.8 L1177.8 426.8 L1178.7 430.7 L1179.5 434.7 L1180.2 438.8 L1180.7 442.8 L1181.1 446.8 L1181.3 450.9 L1181.4 455 L1181.3 459.1 L1181.1 463.2 L1180.7 467.3Z" fill="#8C7010" stroke="#FFF7E0" stroke-width="1.7"/>
<path d="M687.1 414.4 L1180.7 467.3 L1180.2 471.4 L1179.5 475.6 L1178.6 479.7 L1177.6 483.9 L1176.4 488.1 L1175.1 492.2 L1173.6 496.4Z" fill="#7B1D11" stroke="#FFF7E0" stroke-width="1.7"/>
<path d="M687.1 414.4 L1173.6 496.4 L1172 500.2 L1170.3 504.1 L1168.5 508 L1166.5 511.8 L1164.4 515.6 L1162.1 519.5 L1159.7 523.3 L1157.2 527.1 L1154.5 530.9 L1151.6 534.7 L1148.6 538.5 L1145.5 542.3Z" fill="#A9D843" stroke="#FFF7E0" stroke-width="1.7"/>
<path d="M687.1 414.4 L1145.5 542.3 L1141.9 546.4 L1138.1 550.4 L1134.2 554.4 L1130.1 558.4 L1125.8 562.4 L1121.4 566.4 L1116.8 570.3 L1112 574.2 L1107 578 L1101.9 581.8 L1096.6 585.6 L1091.1 589.3 L1085.5 593 L1079.7 596.7 L1073.7 600.3 L1067.6 603.9 L1061.3 607.4 L1054.8 610.8 L1048.2 614.2 L1041.5 617.6 L1034.5 620.9 L1027.5 624.1 L1020.2 627.3 L1012.9 630.4 L1005.3 633.4 L997.7 636.4 L989.9 639.3 L981.9 642.2 L973.8 645 L965.6 647.7 L957.3 650.3 L948.8 652.8 L940.2 655.3 L931.5 657.7 L922.7 660 L913.8 662.3 L904.7 664.4 L895.6 666.5 L886.3 668.4 L877 670.3 L867.6 672.1 L858 673.8 L848.4 675.5 L838.8 677 L829 678.4 L819.2 679.8 L809.3 681 L799.3 682.2 L789.3 683.2 L779.3 684.2 L769.2 685 L759 685.8 L748.8 686.4 L738.6 687 L728.4 687.5 L718.1 687.8 L707.9 688.1 L697.6 688.2 L687.3 688.3 L677 688.3 L666.7 688.1 L656.5 687.9 L646.2 687.5 L636 687.1 L625.7 686.5 L615.6 685.9Z" fill="#E7C44A" stroke="#FFF7E0" stroke-width="1.7"/>
<path d="M687.1 414.4 L615.6 685.9 L605.4 685.2 L595.3 684.3 L585.2 683.4 L575.2 682.3 L565.3 681.2 L555.4 680 L545.6 678.6 L535.8 677.2 L526.1 675.7 L516.5 674.1 L507 672.4 L497.5 670.6 L488.2 668.8 L478.9 666.8 L469.7 664.7 L460.7 662.6 L451.7 660.4 L442.9 658.1 L434.2 655.7 L425.6 653.2 L417.1 650.7 L408.7 648.1 L400.5 645.4 L392.4 642.6 L384.4 639.8 L376.6 636.9 L368.9 633.9 L361.4 630.9 L354 627.8 L346.7 624.6 L339.6 621.4 L332.7 618.1 L325.9 614.8 L319.2 611.4 L312.8 607.9 L306.5 604.4 L300.3 600.9 L294.3 597.3 L288.5 593.7 L282.8 590 L277.3 586.2 L272 582.5 L266.8 578.7 L261.8 574.8 L257 570.9 L252.4 567 L247.9 563.1 L243.6 559.1 L239.5 555.1 L235.5 551.1 L231.8 547.1 L228.1 543 L224.7 538.9 L221.5 534.8 L218.4 530.7 L215.4 526.6 L212.7 522.4 L210.1 518.2 L207.7 514.1 L205.5 509.9 L203.4 505.7 L201.5 501.5 L199.8 497.4 L198.3 493.2 L196.9 489 L195.6 484.8 L194.6 480.6 L193.7 476.4Z" fill="#E04934" stroke="#FFF7E0" stroke-width="1.7"/>
<path d="M687.1 414.4 L193.7 476.4 L193 472.4 L192.4 468.4 L192 464.5 L191.7 460.5 L191.6 456.5 L191.6 452.6 L191.8 448.7 L192.1 444.7 L192.5 440.8 L193.1 437 L193.8 433.1 L194.6 429.2Z" fill="#739B1E" stroke="#FFF7E0" stroke-width="1.7"/>
<path d="M687.1 414.4 L194.6 429.2 L195.6 425.4 L196.7 421.5 L198 417.7 L199.3 413.9 L200.8 410.1 L202.5 406.3 L204.2 402.6 L206.1 398.9 L208.1 395.2 L210.2 391.6 L212.5 387.9 L214.9 384.3 L217.3 380.8 L219.9 377.2 L222.6 373.7 L225.4 370.2 L228.4 366.8 L231.4 363.3 L234.5 359.9 L237.8 356.6 L241.1 353.3 L244.6 350Z" fill="#BB9615" stroke="#FFF7E0" stroke-width="1.7"/>
<path d="M687.1 414.4 L244.6 350 L248.1 346.7 L251.8 343.5 L255.5 340.3 L259.3 337.2 L263.2 334.1 L267.2 331 L271.3 328 L275.5 325 L279.8 322.1 L284.2 319.1 L288.6 316.3 L293.1 313.4 L297.7 310.6 L302.4 307.9 L307.2 305.2Z" fill="#9D2615" stroke="#FFF7E0" stroke-width="1.7"/>
<path d="M687.1 414.4 L307.2 305.2 L312.1 302.4 L317.1 299.7 L322.2 297.1 L327.3 294.5 L332.6 291.9 L337.9 289.4 L343.2 286.9 L348.7 284.5 L354.2 282.1 L359.7 279.8 L365.4 277.5 L371.1 275.2 L376.8 273 L382.6 270.9 L388.5 268.7 L394.4 266.7 L400.4 264.6 L406.4 262.7 L412.5 260.7 L418.6 258.8 L424.8 257 L431 255.2 L437.3 253.4 L443.6 251.7 L450 250.1 L456.4 248.5 L462.8 246.9 L469.3 245.4 L475.8 243.9 L482.4 242.5 L489 241.1 L495.6 239.8 L502.2 238.5 L508.9 237.2 L515.6 236 L522.4 234.9 L529.2 233.8 L536 232.8 L542.8 231.8 L549.6 230.8 L556.5 229.9 L563.4 229 L570.3 228.2 L577.2 227.5Z" fill="#C0E474" stroke="#FFF7E0" stroke-width="1.7"/>
<path d="M687.1 414.4 L577.2 227.5 L583.9 226.8 L590.6 226.1 L597.2 225.5 L603.9 225 L610.6 224.5 L617.4 224 L624.1 223.6 L630.8 223.2 L637.6 222.8 L644.3 222.5Z" fill="#F0D578" stroke="#FFF7E0" stroke-width="1.7"/>
<path d="M687.1 414.4 L644.3 222.5 L651.3 222.3 L658.4 222.1 L665.4 221.9 L672.4 221.8 L679.5 221.7 L686.5 221.7Z" fill="#EB7766" stroke="#FFF7E0" stroke-width="1.7"/>
</g>
<g id="leaders">
<path class="ld" d="M692.7 159 L692.7 221"/>
<path class="ld" d="M634.6 176 L643.5 176 L664.4 221.3"/>
<path class="ld" d="M725.6 210.9 L718 210.9 L715 221.5"/>
<path class="ld" d="M489.4 208.2 L497 208.2 L608.1 224.3"/>
<path class="ld" d="M973.2 228.5 L965.2 228.5 L911.4 246.7"/>
<path class="ld" d="M356.7 239.6 L365.6 239.6 L431.2 255"/>
<path class="ld" d="M1121.2 312.3 L1114.3 312.3 L1101.6 326.2"/>
<path class="ld" d="M203.9 380.6 L211.5 380.6 L213.3 388"/>
<path class="ld" d="M1218.4 422.7 L1210.8 422.7 L1172.9 409.8"/>
<path class="ld" d="M149 485 L156.8 485 L202.7 553.9"/>
<path class="ld" d="M270.1 703.8 L278.4 703.8 L328.9 721"/>
<path class="ld" d="M1147.5 692.5 L1147.5 625.6"/>
<path class="ld" d="M953.8 798.1 L946.2 798.1 L932.9 767.8"/>
</g>
<g id="labels">
<text class="lb" x="620.8" y="139.7" textLength="144.9" lengthAdjust="spacingAndGlyphs">General Government</text>
<text class="lb" y="157.9"><tspan x="684" textLength="8" lengthAdjust="spacingAndGlyphs">0</tspan><tspan x="692" textLength="10.1" lengthAdjust="spacingAndGlyphs">%</tspan></text>
<text class="lb" x="460.8" y="176.8" textLength="171" lengthAdjust="spacingAndGlyphs">Planning &amp; development</text>
<text class="lb" y="194.4"><tspan x="538.2" textLength="8" lengthAdjust="spacingAndGlyphs">2</tspan><tspan x="546.3" textLength="10.1" lengthAdjust="spacingAndGlyphs">%</tspan></text>
<text class="lb" x="710.4" y="194" textLength="51.3" lengthAdjust="spacingAndGlyphs">Council</text>
<text class="lb" y="211.6"><tspan x="727.2" textLength="8" lengthAdjust="spacingAndGlyphs">1</tspan><tspan x="735.3" textLength="10.1" lengthAdjust="spacingAndGlyphs">%</tspan></text>
<text class="lb" x="435.4" y="207.9" textLength="50.4" lengthAdjust="spacingAndGlyphs">Library</text>
<text class="lb" y="225.5"><tspan x="452.9" textLength="8" lengthAdjust="spacingAndGlyphs">3</tspan><tspan x="460.9" textLength="10.1" lengthAdjust="spacingAndGlyphs">%</tspan></text>
<text class="lb" x="976.5" y="229" textLength="102.4" lengthAdjust="spacingAndGlyphs">Administration</text>
<text class="lb" y="246.6"><tspan x="1014.8" textLength="16" lengthAdjust="spacingAndGlyphs">14</tspan><tspan x="1030.9" textLength="10.3" lengthAdjust="spacingAndGlyphs">%</tspan></text>
<text class="lb" x="277.4" y="239.9" textLength="76.4" lengthAdjust="spacingAndGlyphs">Recreation</text>
<text class="lb" y="257.4"><tspan x="303.8" textLength="16" lengthAdjust="spacingAndGlyphs">12</tspan><tspan x="319.8" textLength="10.3" lengthAdjust="spacingAndGlyphs">%</tspan></text>
<text class="lb" x="1123.7" y="311.9" textLength="27.9" lengthAdjust="spacingAndGlyphs">Fire</text>
<text class="lb" y="329.4"><tspan x="1129.2" textLength="8" lengthAdjust="spacingAndGlyphs">5</tspan><tspan x="1137.3" textLength="10.1" lengthAdjust="spacingAndGlyphs">%</tspan></text>
<text class="lb" x="168.1" y="323" textLength="101.6" lengthAdjust="spacingAndGlyphs">Social services</text>
<text class="lb" y="340.4"><tspan x="209.5" textLength="8" lengthAdjust="spacingAndGlyphs">4</tspan><tspan x="217.6" textLength="10.1" lengthAdjust="spacingAndGlyphs">%</tspan></text>
<text class="lb" x="94.5" y="381.1" textLength="107.5" lengthAdjust="spacingAndGlyphs">Health services</text>
<text class="lb" y="398.7"><tspan x="139.7" textLength="8" lengthAdjust="spacingAndGlyphs">6</tspan><tspan x="147.7" textLength="10.1" lengthAdjust="spacingAndGlyphs">%</tspan></text>
<text class="lb" x="1220.3" y="422.7" textLength="42.3" lengthAdjust="spacingAndGlyphs">Police</text>
<text class="lb" y="440.2"><tspan x="1233.1" textLength="8" lengthAdjust="spacingAndGlyphs">8</tspan><tspan x="1241.2" textLength="10.1" lengthAdjust="spacingAndGlyphs">%</tspan></text>
<text class="lb" x="97.7" y="447.8" textLength="84.6" lengthAdjust="spacingAndGlyphs">Collection &amp;</text>
<text class="lb" x="112.8" y="465.6" textLength="54.7" lengthAdjust="spacingAndGlyphs">disposal</text>
<text class="lb" y="483"><tspan x="131.3" textLength="8" lengthAdjust="spacingAndGlyphs">3</tspan><tspan x="139.4" textLength="10.1" lengthAdjust="spacingAndGlyphs">%</tspan></text>
<text class="lb" x="1169.7" y="597.8" textLength="112.2" lengthAdjust="spacingAndGlyphs">Protective ins &amp;</text>
<text class="lb" x="1201.8" y="615.2" textLength="49" lengthAdjust="spacingAndGlyphs">control</text>
<text class="lb" y="632.7"><tspan x="1217.3" textLength="8" lengthAdjust="spacingAndGlyphs">2</tspan><tspan x="1225.4" textLength="10.1" lengthAdjust="spacingAndGlyphs">%</tspan></text>
<text class="lb" x="100.9" y="703.8" textLength="166.4" lengthAdjust="spacingAndGlyphs">Water and Sewer (W&amp;S)</text>
<text class="lb" y="721.4"><tspan x="171.3" textLength="16" lengthAdjust="spacingAndGlyphs">19</tspan><tspan x="187.4" textLength="10.3" lengthAdjust="spacingAndGlyphs">%</tspan></text>
<text class="lb" x="1121.3" y="707.6" textLength="134.1" lengthAdjust="spacingAndGlyphs">Provincial offences</text>
<text class="lb" y="725"><tspan x="1180.2" textLength="8" lengthAdjust="spacingAndGlyphs">3</tspan><tspan x="1188.3" textLength="10.1" lengthAdjust="spacingAndGlyphs">%</tspan></text>
<text class="lb" x="957" y="797.6" textLength="103.2" lengthAdjust="spacingAndGlyphs">Transportation</text>
<text class="lb" y="815.2"><tspan x="996.1" textLength="16" lengthAdjust="spacingAndGlyphs">18</tspan><tspan x="1012.2" textLength="10.3" lengthAdjust="spacingAndGlyphs">%</tspan></text>
</g>
</svg>
</body></html>
